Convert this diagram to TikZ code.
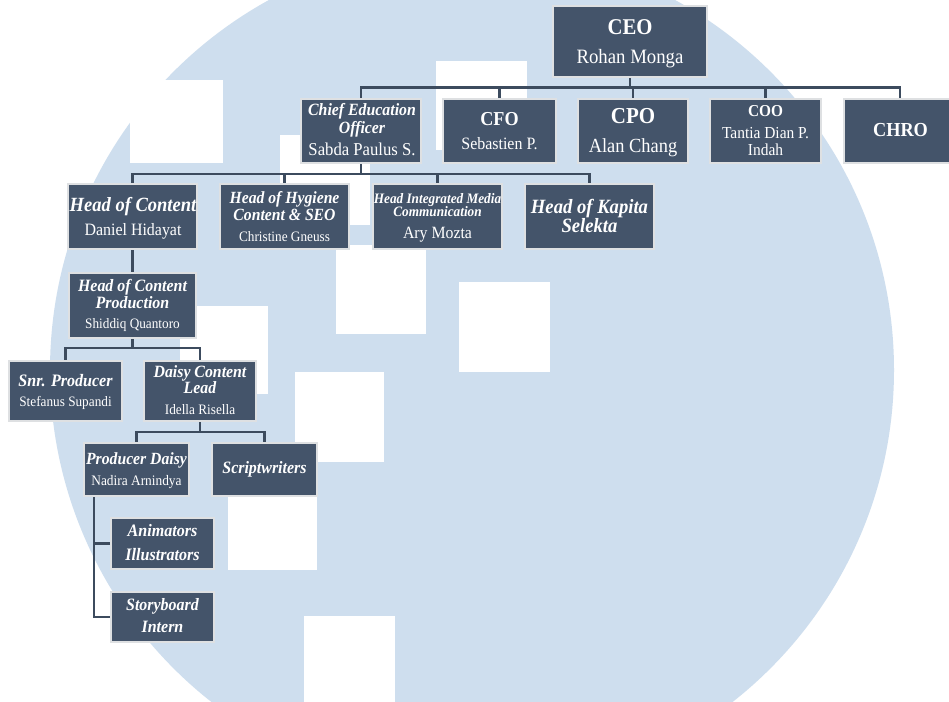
\documentclass[tikz,border=0pt]{standalone}
\usepackage{fontspec}
\setmainfont{Liberation Serif}[FakeStretch=0.92]
\definecolor{boxfill}{RGB}{68,84,106}
\definecolor{boxline}{RGB}{222,224,226}
\definecolor{connc}{RGB}{60,75,94}
\definecolor{wmblue}{RGB}{206,222,238}
\pgfdeclarelayer{wm}
\pgfdeclarelayer{bg}
\pgfsetlayers{wm,bg,main}
\tikzset{
  orgbox/.style 2 args={draw=boxline, line width=1.5pt, fill=boxfill, inner sep=0pt, outer sep=0pt,
    minimum width={(#1-2)*0.75pt}, minimum height={(#2-2)*0.75pt}},
  conn/.style={draw=connc, line width=1.8pt},
  tt/.style={text=white, inner sep=0pt, outer sep=0pt, anchor=base},
  fB/.style={tt, font=\fontsize{#1}{#1}\selectfont\bfseries},
  fBI/.style={tt, font=\fontsize{#1}{#1}\selectfont\bfseries\itshape},
  fR/.style={tt, font=\fontsize{#1}{#1}\selectfont},
  wmsq/.style={fill=white}
}
\begin{document}
\begin{tikzpicture}[x=0.75pt,y=-0.75pt]
\useasboundingbox (0,0) rectangle (949,701);
\clip (0,0) rectangle (949,701);
% watermark
\begin{pgfonlayer}{wm}
\clip (0,0) rectangle (949,701);
\fill[white] (0,0) rectangle (949,701);
\fill[wmblue] (472,370) circle[radius=422];
\fill[wmsq] (130,80) rectangle (223,163);
\fill[wmsq] (436,61) rectangle (527,150);
\fill[wmsq] (280,135) rectangle (370,225);
\fill[wmsq] (336,245) rectangle (426,334);
\fill[wmsq] (459,282) rectangle (550,372);
\fill[wmsq] (180,306) rectangle (268,394);
\fill[wmsq] (295,372) rectangle (384,462);
\fill[wmsq] (228,480) rectangle (317,570);
\fill[wmsq] (304,616) rectangle (395,706);
\end{pgfonlayer}

% boxes
\node[orgbox={156}{73}] (ceo) at (630,41.5) {};
\node[orgbox={122}{66}] (chief) at (361,131) {};
\node[orgbox={115}{66}] (cfo) at (499.5,131) {};
\node[orgbox={112}{66}] (cpo) at (633,131) {};
\node[orgbox={113}{66}] (coo) at (765.5,131) {};
\node[orgbox={114}{66}] (chro) at (900,131) {};
\node[orgbox={131}{67}] (hoc) at (132.5,216.5) {};
\node[orgbox={131}{67}] (hyg) at (284.5,216.5) {};
\node[orgbox={131}{67}] (imc) at (437.5,216.5) {};
\node[orgbox={131}{67}] (kap) at (589.5,216.5) {};
\node[orgbox={129}{67}] (hocp) at (132.5,305.5) {};
\node[orgbox={115}{62}] (snr) at (65.5,391) {};
\node[orgbox={114}{62}] (dcl) at (200,391) {};
\node[orgbox={107}{55}] (pd) at (136.5,469.5) {};
\node[orgbox={107}{55}] (scr) at (264.5,469.5) {};
\node[orgbox={105}{53}] (ani) at (162.5,543.5) {};
\node[orgbox={105}{52}] (sto) at (162.5,617) {};

% texts
\node[fB=16.9] (ceoA) at (630,34.3) {CEO};
\node[fR=15.3] (ceoB) at (630,63.3) {Rohan Monga};
\node[fBI=12.9] (chiefA) at (362,115.7) {Chief Education};
\node[fBI=12.9] (chiefB) at (362,133.3) {Officer};
\node[fR=13.6] (chiefC) at (362,155.7) {Sabda Paulus S.};
\node[fB=14.8] (cfoA) at (499.5,125) {CFO};
\node[fR=13] (cfoB) at (499.5,149) {Sebastien P.};
\node[fB=17.1] (cpoA) at (633,123.3) {CPO};
\node[fR=15] (cpoB) at (633,152.7) {Alan Chang};
\node[fB=12.5] (cooA) at (765.5,116) {COO};
\node[fR=12.6] (cooB) at (765.5,138.3) {Tantia Dian P.};
\node[fR=12.6] (cooC) at (765.5,155) {Indah};
\node[fB=14.9] (chroA) at (900.5,136) {CHRO};
\node[fBI=15.1] (hocA) at (133,211.7) {Head of Content};
\node[fR=13] (hocB) at (133,235) {Daniel Hidayat};
\node[fBI=12.8] (hygA) at (284.5,203.3) {Head of Hygiene};
\node[fBI=12.8] (hygB) at (284.5,220) {Content \& SEO};
\node[fR=10.8] (hygC) at (284.5,241.7) {Christine Gneuss};
\node[fBI=10.8] (imcA) at (437.5,203.3) {Head Integrated Media};
\node[fBI=10.8] (imcB) at (437.5,216.7) {Communication};
\node[fR=12.9] (imcC) at (437.5,238.3) {Ary Mozta};
\node[fBI=15.2] (kapA) at (589.5,213.3) {Head of Kapita};
\node[fBI=15.2] (kapB) at (589.5,232.7) {Selekta};
\node[fBI=13] (hocpA) at (132.5,291.5) {Head of Content};
\node[fBI=13] (hocpB) at (132.5,308.5) {Production};
\node[fR=10.8] (hocpC) at (132.5,328.6) {Shiddiq Quantoro};
\node[fBI=13.1] (snrA) at (65.5,386.7) {Snr. Producer};
\node[fR=10.8] (snrB) at (65.5,406.7) {Stefanus Supandi};
\node[fBI=12.9] (dclA) at (200,377.3) {Daisy Content};
\node[fBI=12.9] (dclB) at (200,393.3) {Lead};
\node[fR=10.8] (dclC) at (200,414) {Idella Risella};
\node[fBI=12.8] (pdA) at (136.5,464) {Producer Daisy};
\node[fR=10.9] (pdB) at (136.5,485) {Nadira Arnindya};
\node[fBI=13] (scrA) at (264.5,473.3) {Scriptwriters};
\node[fBI=13.1] (aniA) at (162.5,536.7) {Animators};
\node[fBI=13.1] (aniB) at (162.5,560) {Illustrators};
\node[fBI=13] (stoA) at (162.5,610) {Storyboard};
\node[fBI=13] (stoB) at (162.5,632.7) {Intern};

% connectors
\coordinate (b1) at (630,87.5);
\coordinate (b2) at (361,174);
\coordinate (b3) at (132.5,348);
\coordinate (b4) at (200,432);
\coordinate (pdv) at (94,497);
\begin{pgfonlayer}{bg}
\draw[conn] (ceo.south) -- (b1);
\draw[conn] (chief.north) |- (b1) -| (chro.north);
\draw[conn] (cfo.north) -- (cfo.north |- b1);
\draw[conn] (cpo.north) -- (cpo.north |- b1);
\draw[conn] (coo.north) -- (coo.north |- b1);
\draw[conn] (chief.south) -- (b2);
\draw[conn] (hoc.north) |- (b2) -| (kap.north);
\draw[conn] (hyg.north) -- (hyg.north |- b2);
\draw[conn] (imc.north) -- (imc.north |- b2);
\draw[conn] (hoc.south) -- (hocp.north);
\draw[conn] (hocp.south) -- (b3);
\draw[conn] (snr.north) |- (b3) -| (dcl.north);
\draw[conn] (dcl.south) -- (b4);
\draw[conn] (pd.north) |- (b4) -| (scr.north);
\draw[conn] (pdv) |- (ani.west);
\draw[conn] (pdv) |- (sto.west);
\end{pgfonlayer}
\end{tikzpicture}
\end{document}
